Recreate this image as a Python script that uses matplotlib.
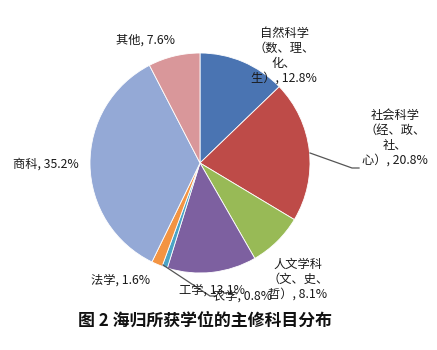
import matplotlib.pyplot as plt

plt.rcParams['font.family'] = ['Noto Sans CJK SC', 'DejaVu Sans']

# data, clockwise from 12 o'clock
subjects = ['自然科学\n（数、理、\n化、\n生）', '社会科学\n（经、政、\n社、\n心）', '人文学科\n（文、史、\n哲）',
            '工学', '农学', '法学', '商科', '其他']
shares = [12.8, 20.8, 8.1, 13.1, 0.8, 1.6, 35.2, 7.6]
colors = ['#4A74B2', '#BE4B48', '#98BA56', '#7D60A0', '#4BA4C6', '#F39443', '#94A9D6', '#D9979A']
title = '图 2 海归所获学位的主修科目分布'

# label anchor positions (pixel-ish coordinates, y upward)
label_pos = [(284, 294), (395, 212), (298, 71),
             (212, 60), (243, 54), (121, 70),
             (46, 186), (145, 310)]

fig = plt.figure(figsize=(4.37, 3.5), dpi=100)
ax = fig.add_axes([0, 0, 1, 1])

cx, cy, r = 200, 187, 110
ax.pie(shares, colors=colors, startangle=90, counterclock=False,
       center=(cx, cy), radius=r, frame=True,
       wedgeprops=dict(edgecolor='white', linewidth=0.6))
ax.set_xlim(0, 437)
ax.set_ylim(0, 350)
ax.set_aspect('equal')
ax.axis('off')

for name, val, (x, y) in zip(subjects, shares, label_pos):
    ax.text(x, y, f'{name}, {val}%', ha='center', va='center', fontsize=8.8,
            color='#1a1a1a', linespacing=1.2, multialignment='center')

# leader lines
ax.plot([310, 352, 359], [197, 182, 182], color='#555555', lw=0.9)
ax.plot([163, 210, 216], [85, 54, 54], color='#555555', lw=0.9)

fig.text(0.47, 0.085, title, ha='center', va='center', fontsize=12.2,
         fontweight='bold', color='#111111')

fig.savefig('out.png', dpi=100, facecolor='white')
